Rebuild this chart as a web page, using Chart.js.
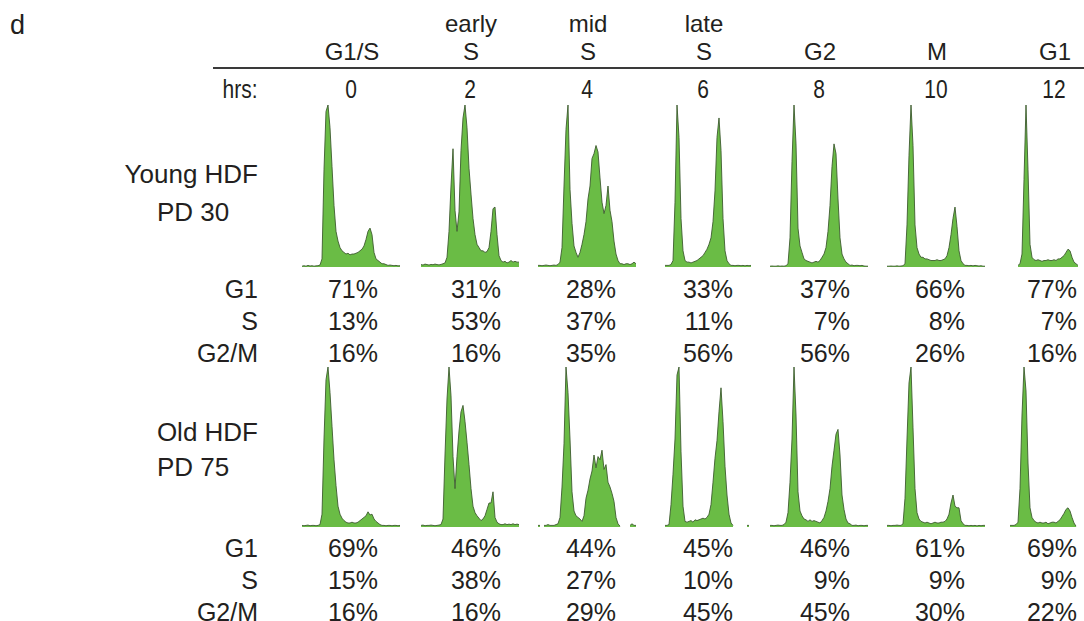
<!DOCTYPE html>
<html>
<head>
<meta charset="utf-8">
<script src="https://cdn.jsdelivr.net/npm/chart.js@4.4.1/dist/chart.umd.min.js"></script>
<style>
  html, body { margin:0; padding:0; background:#fff; overflow:hidden; }
  #fig { position:relative; width:1084px; height:621px; font-family:"Liberation Sans", Arial, Helvetica, sans-serif; color:#231f20; }
  .t { position:absolute; white-space:nowrap; line-height:1; }
  .c { transform:translate(-50%,-50%); }
  .r { transform:translate(-100%,-50%); }
  .l { transform:translate(0,-50%); }
  .n { transform:translate(-50%,-50%) scaleX(0.84); }
  canvas { position:absolute; }
</style>
</head>
<body>
<div id="fig"></div>
<script>
// ---------------- DATA ----------------
const phaseTop = ["", "early", "mid", "late", "", "", ""];
const phaseBottom = ["G1/S", "S", "S", "S", "G2", "M", "G1"];
const hours = ["0", "2", "4", "6", "8", "10", "12"];
const rowLabels = ["G1", "S", "G2/M"];

const youngG1  = [71, 31, 28, 33, 37, 66, 77];
const youngS   = [13, 53, 37, 11, 7, 8, 7];
const youngG2M = [16, 16, 35, 56, 56, 26, 16];
const oldG1    = [69, 46, 44, 45, 46, 61, 69];
const oldS     = [15, 38, 27, 10, 9, 9, 9];
const oldG2M   = [16, 16, 29, 45, 45, 30, 22];

// DNA-content histograms (relative cell counts, 50 channels each)
const youngH0 = [0.5,0.8,0.5,1,0.6,0.8,0.5,0.7,0.8,1.2,5,60,96,100,86,62,38,22,16,12,10,9,8,8.5,7.5,8,8,8.5,9,10,11,13,17,22,24,20,9,5,4,3,2,2,1.5,1,1.2,1,0.8,1,0.7,0.8];
const youngH1 = [1.5,1.2,1.8,1.5,1.2,1.6,1.4,1.8,1.5,1.3,1.6,2,2.5,6,22,50,73,35,22,34,72,92,100,86,61,45,30,20,14,12,10,10,9,9.5,12,22,36,37,20,7,4,3,3.5,2.5,3,4,3,3.5,3,3];
const youngH2 = [1,1,0.8,1,1.2,1,0.8,1,1.2,1,1.5,3,12,50,85,100,48,27,13,9,6,9,14,20,28,42,50,67,70,75,71,55,40,33,38,50,35,28,16,8,4,2,2,1.5,2,2,1.5,2,3,2];
const youngH3 = [null,null,null,null,null,null,1,1,1,1.5,4,40,100,80,30,10,4,3,3,2.5,3,3.5,4,5,6,7,9,11,14,18,28,47,80,92,72,30,10,4,2,1,1,0.8,1,1,0.8,1,0.7,1,0.8,1];
const youngH4 = [0.5,0.6,0.5,0.5,0.7,0.5,0.6,0.5,0.8,2,18,65,100,76,24,13,9,5,4,3.5,3,2.5,3,3.5,3,4,6,8,12,22,38,62,76,70,42,18,8,5,3,2,1,1.2,0.8,1,1,0.8,1,0.6,0.5,0.5];
const youngH5 = [0.5,0.5,0.6,0.5,0.5,0.7,0.5,0.6,0.8,2,26,69,100,75,26,12,8,6,6,5,5,4.5,4,4,4,4.5,4,4,4.5,5,7,12,20,30,37,25,10,4,2,1,1,0.8,1,0.7,1,0.8,0.6,0.8,0.5,0.5];
const youngH6 = [null,null,null,null,null,null,null,null,1,2,8,54,100,60,14,6,4.5,4,4.5,4,3.5,4,4,4.5,4,4,4.5,4,5,5,6,7,9,11,10,6,3,2,1,null,null,null,null,null,null,null,null,null,null,null];

const oldH0 = [1,0.8,1,1.2,0.8,1,1,0.8,1,1.5,8,55,92,100,84,63,42,26,13,8,5.5,4,3,2.5,2.5,3,2.5,2.5,3,4,5,6,7,9.5,7.5,8,5,3.5,2.5,1.5,1,1,0.8,1,1,0.8,1,1,0.8,1];
const oldH1 = [1,1.2,0.8,1,1,1.2,1,0.8,1,1.2,1.5,5,45,80,100,82,44,24,44,60,72,76,66,53,39,24,13,9,7,5.5,4,5,7,11,15,15,22,6,3,2,1.5,1.5,2,1.5,1.8,1.5,2,1.5,1.8,1.5];
const oldH2 = [1,1,null,1,1,1.5,1,1,1,1.5,2,6,25,52,100,84,55,22,10,7,6,5,3.5,7,18,23,30,35,45,37,44,42,48,36,39,28,25,21,16,6,2,0.5,null,null,null,null,1,2,1,1];
const oldH3 = [null,null,null,null,1,null,1,1,1.5,14,33,55,95,100,47,13,3.5,3,3.5,4,3,4.5,4,4.5,5,5.5,5,6,8,14,28,43,54,72,87,66,38,20,8,2.5,1,null,null,null,null,null,null,1,1,null];
const oldH4 = [1,1,0.8,1,1.2,1,1,1.5,3,9,28,55,100,70,22,10,7,5,4.5,3.5,4.5,3.5,4,3.5,3,2.5,4,6,10,16,24,38,48,58,61,45,20,11,5,2.5,2,1,1,1.2,0.8,1,1,0.8,1,1];
const oldH5 = [1,1,0.8,1,1,1.2,1,1,2,18,55,90,100,62,24,9,5,3.5,3,2.5,3,2.5,2,2.5,3,2.5,2.5,3,3,3.5,5,8,15,20,13,12,12,4,2,1,1,0.8,1,0.8,1,0.7,1,0.8,1,1];
const oldH6 = [1,null,1,null,1,1,1,1.5,3,24,70,100,85,40,12,6,4,3,2.5,3,2.5,2.5,3,2,2.5,3,3,2.5,3.5,4.5,6.5,8.5,11,12,10,6,2.5,0.5,null,null,null,null,null,null,null,null,null,null,null,null];

// ---------------- LAYOUT ----------------
const fig = document.getElementById('fig');
function txt(s, x, y, size, cls) {
  const d = document.createElement('div');
  d.className = 't ' + cls;
  d.textContent = s;
  d.style.left = x + 'px';
  d.style.top = y + 'px';
  d.style.fontSize = size + 'px';
  fig.appendChild(d);
  return d;
}

const colCenters = [352, 471, 588, 704, 820, 937, 1055];
const pctRight = [378, 501, 616, 733, 850, 965, 1077];
const panelLeft = [302, 421, 538, 653, 770, 887, 1002];

txt('d', 10, 25, 27, 'l');
phaseTop.forEach((s, i) => { if (s) txt(s, colCenters[i], 24, 24, 'c'); });
phaseBottom.forEach((s, i) => txt(s, colCenters[i], 52, 24, 'c'));

const rule = document.createElement('div');
rule.style.cssText = 'position:absolute;left:213px;top:67px;width:871px;height:2px;background:#3a3a3a;';
fig.appendChild(rule);

txt('hrs:', 240, 89, 25, 'n');
hours.forEach((s, i) => txt(s, colCenters[i] - 1, 89, 25, 'n'));

txt('Young HDF', 258, 174, 26, 'r');
txt('PD 30', 157, 212, 26, 'l');
txt('Old HDF', 258, 432, 26, 'r');
txt('PD 75', 157, 467, 26, 'l');

function table(vals, y0) {
  rowLabels.forEach((s, r) => txt(s, 258, y0 + r * 32, 25, 'r'));
  vals.forEach((arr, r) => arr.forEach((v, i) => txt(v + '%', pctRight[i], y0 + r * 32, 25, 'r')));
}
table([youngG1, youngS, youngG2M], 289);
table([oldG1, oldS, oldG2M], 548);

const channels = youngH0.map((_, i) => i);
function histo(data, left, areaTop, areaH) {
  const cv = document.createElement('canvas');
  const w = 100, h = areaH + 3;
  cv.width = w; cv.height = h;
  cv.style.left = (left - 1) + 'px';
  cv.style.top = (areaTop - 2) + 'px';
  cv.style.width = w + 'px'; cv.style.height = h + 'px';
  fig.appendChild(cv);
  new Chart(cv, {
    type: 'line',
    data: { labels: channels, datasets: [{
      data: data, borderColor: 'rgba(62,92,48,0.9)', borderWidth: 1,
      backgroundColor: '#6abc45', fill: 'origin', pointRadius: 0, tension: 0, spanGaps: false
    }]},
    options: {
      responsive: false, animation: false, events: [],
      layout: { padding: { top: 2, bottom: 1, left: 1, right: 1 } },
      plugins: { legend: { display: false }, tooltip: { enabled: false } },
      scales: { x: { display: false, offset: false }, y: { display: false, min: 0, max: 100 } }
    }
  });
}
[youngH0, youngH1, youngH2, youngH3, youngH4, youngH5, youngH6].forEach((d, i) => histo(d, panelLeft[i], 105, 162));
[oldH0, oldH1, oldH2, oldH3, oldH4, oldH5, oldH6].forEach((d, i) => histo(d, panelLeft[i], 367, 160));
</script>
</body>
</html>
